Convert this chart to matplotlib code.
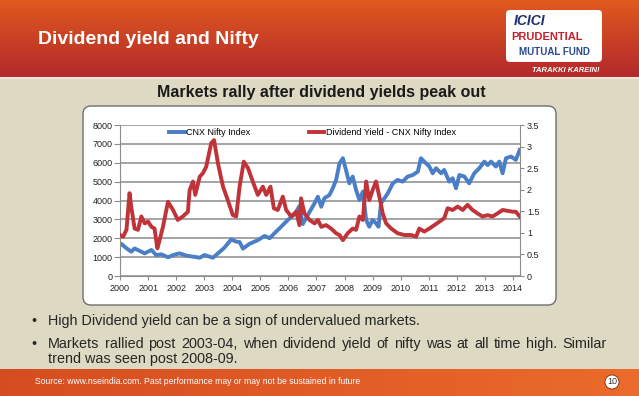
import numpy as np
import matplotlib
matplotlib.use("Agg")
import matplotlib.pyplot as plt
from matplotlib.patches import FancyBboxPatch, Circle
from matplotlib.lines import Line2D

FONT = "Liberation Sans"

# CNX Nifty index (left axis)
nifty_x = [2000.0, 2000.05, 2000.23, 2000.40, 2000.52, 2000.70, 2000.88, 2001.12, 2001.29, 2001.47,
           2001.71, 2001.89, 2002.12, 2002.36, 2002.60, 2002.84, 2003.01, 2003.31, 2003.49, 2003.72,
           2003.96, 2004.14, 2004.26, 2004.38, 2004.61, 2004.91, 2005.15, 2005.33, 2005.56, 2005.74,
           2005.98, 2006.22, 2006.39, 2006.51, 2006.69, 2006.93, 2007.05, 2007.17, 2007.28, 2007.46,
           2007.58, 2007.70, 2007.82, 2007.94, 2008.05, 2008.17, 2008.29, 2008.41, 2008.53, 2008.65,
           2008.77, 2008.88, 2009.00, 2009.12, 2009.21, 2009.30, 2009.42, 2009.54, 2009.72, 2009.89,
           2010.07, 2010.25, 2010.43, 2010.61, 2010.72, 2010.84, 2011.02, 2011.14, 2011.26, 2011.44,
           2011.55, 2011.73, 2011.85, 2011.97, 2012.09, 2012.27, 2012.44, 2012.62, 2012.80, 2012.98,
           2013.10, 2013.22, 2013.39, 2013.51, 2013.63, 2013.75, 2013.93, 2014.10, 2014.24]
nifty = [1640, 1700, 1470, 1290, 1460, 1330, 1200, 1380, 1110, 1150,
         990, 1110, 1200, 1080, 1025, 970, 1110, 970, 1200, 1500,
         1940, 1820, 1800, 1450, 1700, 1900, 2120, 2000, 2350, 2610,
         2970, 3270, 3700, 2750, 3230, 3850, 4200, 3670, 4120, 4290,
         4650, 5090, 5970, 6240, 5620, 4910, 5270, 4560, 4030, 4470,
         2970, 2610, 2970, 2790, 2610, 3850, 4120, 4380, 4910, 5090,
         5000, 5270, 5350, 5530, 6240, 6060, 5800, 5440, 5710, 5440,
         5620, 5000, 5180, 4650, 5350, 5270, 4910, 5440, 5710, 6060,
         5880, 6060, 5800, 6060, 5440, 6240, 6330, 6150, 6680]

# Dividend yield of CNX Nifty (right axis, %)
dy_x = [2000.0, 2000.11, 2000.23, 2000.34, 2000.40, 2000.52, 2000.64, 2000.76, 2000.88, 2001.0,
        2001.12, 2001.23, 2001.33, 2001.41, 2001.53, 2001.71, 2001.89, 2002.06, 2002.24, 2002.42,
        2002.48, 2002.60, 2002.68, 2002.84, 2002.95, 2003.07, 2003.25, 2003.35, 2003.49, 2003.67,
        2003.84, 2004.02, 2004.14, 2004.26, 2004.41, 2004.56, 2004.73, 2004.91, 2005.09, 2005.21,
        2005.36, 2005.48, 2005.62, 2005.80, 2005.92, 2006.10, 2006.28, 2006.39, 2006.45, 2006.57,
        2006.75, 2006.93, 2007.05, 2007.17, 2007.34, 2007.52, 2007.70, 2007.82, 2007.94, 2008.11,
        2008.29, 2008.41, 2008.53, 2008.65, 2008.77, 2008.88, 2009.00, 2009.12, 2009.24, 2009.36,
        2009.48, 2009.66, 2009.89, 2010.13, 2010.37, 2010.55, 2010.66, 2010.84, 2011.02, 2011.20,
        2011.38, 2011.55, 2011.67, 2011.85, 2012.03, 2012.21, 2012.38, 2012.56, 2012.74, 2012.91,
        2013.10, 2013.27, 2013.45, 2013.63, 2013.81, 2013.99, 2014.10, 2014.24]
dy = [0.95, 0.91, 1.07, 1.92, 1.61, 1.10, 1.07, 1.38, 1.22, 1.26,
      1.14, 1.10, 0.64, 0.83, 1.14, 1.72, 1.53, 1.30, 1.38, 1.49,
      1.99, 2.19, 1.88, 2.30, 2.38, 2.53, 3.08, 3.15, 2.61, 2.07,
      1.76, 1.41, 1.38, 2.07, 2.65, 2.50, 2.19, 1.88, 2.07, 1.88,
      2.07, 1.57, 1.53, 1.84, 1.53, 1.38, 1.49, 1.18, 1.80, 1.45,
      1.30, 1.22, 1.30, 1.14, 1.18, 1.10, 0.99, 0.95, 0.83, 0.99,
      1.10, 1.07, 1.38, 1.30, 2.19, 1.76, 1.99, 2.19, 1.84, 1.45,
      1.22, 1.10, 0.99, 0.95, 0.95, 0.91, 1.10, 1.03, 1.10, 1.18,
      1.26, 1.34, 1.57, 1.53, 1.61, 1.53, 1.65, 1.53, 1.45, 1.38,
      1.41, 1.38, 1.45, 1.53, 1.51, 1.49, 1.49, 1.38]

years = list(range(2000, 2015))
left_ticks = list(range(0, 8001, 1000))
right_ticks = [0, 0.5, 1, 1.5, 2, 2.5, 3, 3.5]
right_labels = ["0", "0.5", "1", "1.5", "2", "2.5", "3", "3.5"]

bullet_lines = [
    ["High Dividend yield can be a sign of undervalued markets."],
    ["Markets rallied post 2003-04, when dividend yield of nifty was at all time high. Similar",
     "trend was seen post 2008-09."],
]

W, H = 639, 396
fig = plt.figure(figsize=(W / 100, H / 100), dpi=100)
fig.patch.set_facecolor("#DDD9C3")

bg = fig.add_axes([0, 0, 1, 1])
bg.set_xlim(0, W)
bg.set_ylim(H, 0)
bg.axis("off")

# header gradient
grad = np.linspace(0, 1, 100)[:, None]
top_c = np.array([0.88, 0.35, 0.12])
bot_c = np.array([0.70, 0.16, 0.17])
hdr = top_c + (bot_c - top_c) * grad[..., None]
bg.imshow(hdr, extent=[0, W, 77, 0], aspect="auto", zorder=0)
bg.plot([0, W], [78, 78], color="#EDE6D6", lw=1.5)

# footer gradient
gx = np.linspace(0, 1, 100)[None, :]
l_c = np.array([0.84, 0.30, 0.13])
r_c = np.array([0.92, 0.42, 0.17])
ftr = l_c + (r_c - l_c) * gx[..., None]
bg.imshow(ftr, extent=[0, W, H, 369], aspect="auto", zorder=0)

bg.text(38, 40, "Dividend yield and Nifty", color="white", fontsize=14,
        fontweight="bold", family=FONT, va="center", ha="left")

# logo
bg.add_patch(FancyBboxPatch((506, 10), 96, 52, boxstyle="round,pad=0,rounding_size=4",
                            fc="white", ec="none"))
bg.text(514, 21, "ICICI", color="#1F2F6E", fontsize=10, fontweight="bold",
        style="italic", family=FONT, va="center")
bg.text(511, 37, "PRUDENTIAL", color="#C8202A", fontsize=8, fontweight="bold",
        family=FONT, va="center")
bg.text(554, 52, "MUTUAL FUND", color="#2A4A8E", fontsize=7, fontweight="bold",
        family=FONT, va="center", ha="center")
bg.text(600, 70, "TARAKKI KAREIN!", color="white", fontsize=5.5, fontweight="bold",
        style="italic", family=FONT, va="center", ha="right")

bg.text(321, 92, "Markets rally after dividend yields peak out", color="#1A1A1A",
        fontsize=11.5, fontweight="bold", family=FONT, ha="center", va="center")

bg.add_patch(FancyBboxPatch((83, 106), 473, 199, boxstyle="round,pad=0,rounding_size=8",
                            fc="white", ec="#6E6E6E", lw=1))

# bullets, the long line justified to the right margin
renderer = fig.canvas.get_renderer()
txt_kw = dict(fontsize=10.4, color="#262626", va="baseline", family=FONT)
ys = [[325], [348], [363]]
ys = [[325], [348, 363]]
for lines, yy in zip(bullet_lines, ys):
    bg.text(31, yy[0], "\u2022", **txt_kw)
    for i, (line, y) in enumerate(zip(lines, yy)):
        if i == 0 and len(lines) > 1:
            words = line.split(" ")
            arts = [bg.text(0, y, w, **txt_kw) for w in words]
            widths = [a.get_window_extent(renderer).width for a in arts]
            gap = (607 - 48 - sum(widths)) / (len(words) - 1)
            x = 48
            for a, w in zip(arts, widths):
                a.set_x(x)
                x += w + gap
        else:
            bg.text(48, y, line, **txt_kw)

bg.text(35, 381, "Source: www.nseindia.com. Past performance may or may not be sustained in future",
        fontsize=6.2, color="white", va="center", family=FONT)
bg.add_patch(Circle((612, 382), 7, fc="white", ec="#7A2A10", lw=0.6))
bg.text(612, 382, "10", fontsize=6.5, color="#333333", ha="center", va="center", family=FONT)

# chart
ax = fig.add_axes([120 / W, 1 - 276 / H, 400 / W, 151 / H])
ax.set_facecolor("none")
ax.plot(nifty_x, nifty, color="#4A7EC7", lw=2.8, solid_joinstyle="round")
ax.set_xlim(2000, 2014.25)
ax.set_ylim(0, 8000)
ax.set_yticks(left_ticks)
ax.set_xticks(years)
ax.grid(axis="y", color="#8C8C8C", lw=1.1)
ax.set_axisbelow(True)
ax.spines["top"].set_visible(False)
ax.spines["right"].set_visible(False)
for s in ("left", "bottom"):
    ax.spines[s].set_color("#8C8C8C")
ax.tick_params(axis="y", colors="#8C8C8C", labelcolor="#222222", labelsize=6.5, length=4, pad=1.5)
ax.tick_params(axis="x", colors="#8C8C8C", labelcolor="#222222", labelsize=6.5, length=3, pad=3)
for lbl in ax.get_xticklabels() + ax.get_yticklabels():
    lbl.set_family(FONT)

ax2 = ax.twinx()
ax2.plot(dy_x, dy, color="#BF3339", lw=2.8, solid_joinstyle="round")
ax2.set_ylim(0, 3.5)
ax2.set_yticks(right_ticks)
ax2.set_yticklabels(right_labels)
for s in ("top", "left", "bottom"):
    ax2.spines[s].set_visible(False)
ax2.spines["right"].set_color("#8C8C8C")
ax2.tick_params(colors="#8C8C8C", labelcolor="#222222", labelsize=6.5, length=3, pad=2)
for lbl in ax2.get_yticklabels():
    lbl.set_family(FONT)

handles = [Line2D([], [], color="#4A7EC7", lw=2.8), Line2D([], [], color="#BF3339", lw=2.8)]
ax2.legend(handles, ["CNX Nifty Index", "Dividend Yield - CNX Nifty Index"], ncol=2,
           loc="upper center", bbox_to_anchor=(0.481, 1.035), frameon=False,
           prop={"family": FONT, "size": 6.5}, handlelength=1.7, handletextpad=0.15,
           columnspacing=6.5)

fig.savefig("out.png", dpi=100, facecolor=fig.get_facecolor())
